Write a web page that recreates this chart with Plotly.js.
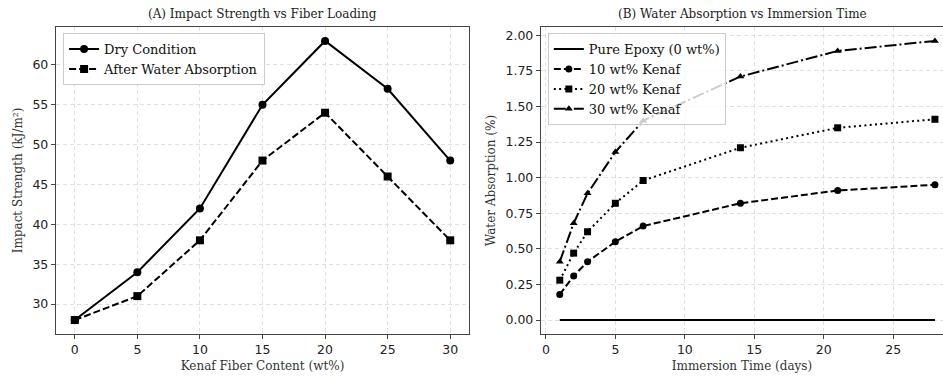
<!DOCTYPE html>
<html>
<head>
<meta charset="utf-8">
<script src="https://cdn.plot.ly/plotly-3.0.1.min.js"></script>
<style>html,body{margin:0;padding:0;background:#fff;}#chart{width:943px;height:377px;}</style>
</head>
<body>
<div id="chart"></div>
<script>
// Panel A data
const fiberContent = [0, 5, 10, 15, 20, 25, 30];
const dryImpact = [28, 34, 42, 55, 63, 57, 48];
const wetImpact = [28, 31, 38, 48, 54, 46, 38];
// Panel B data
const immersionDays = [1, 2, 3, 5, 7, 14, 21, 28];
const pureEpoxy = [0, 0, 0, 0, 0, 0, 0, 0];
const kenaf10 = [0.18, 0.31, 0.41, 0.55, 0.66, 0.82, 0.91, 0.95];
const kenaf20 = [0.28, 0.47, 0.62, 0.82, 0.98, 1.21, 1.35, 1.41];
const kenaf30 = [0.41, 0.68, 0.89, 1.18, 1.40, 1.71, 1.89, 1.96];
const xTicksA = [0, 5, 10, 15, 20, 25, 30];
const yTicksA = [30, 35, 40, 45, 50, 55, 60];
const xTicksB = [0, 5, 10, 15, 20, 25];
const yTicksB = [0, 0.25, 0.5, 0.75, 1.0, 1.25, 1.5, 1.75, 2.0];

const serif = '"DejaVu Serif", serif';
const sans = '"DejaVu Sans", sans-serif';
const lw = 2;
const dashed = '7px,3px';
const dotted = '2px,3.3px';
const dashdot = '12px,3px,2px,3px';

const traces = [
  {x: fiberContent, y: dryImpact, name: 'Dry Condition', mode: 'lines+markers',
   line: {color: '#000', width: lw}, marker: {symbol: 'circle', size: 8, color: '#000'},
   xaxis: 'x', yaxis: 'y', legend: 'legend'},
  {x: fiberContent, y: wetImpact, name: 'After Water Absorption', mode: 'lines+markers',
   line: {color: '#000', width: lw, dash: dashed}, marker: {symbol: 'square', size: 8, color: '#000'},
   xaxis: 'x', yaxis: 'y', legend: 'legend'},
  {x: immersionDays, y: pureEpoxy, name: 'Pure Epoxy (0 wt%)', mode: 'lines',
   line: {color: '#000', width: lw}, xaxis: 'x2', yaxis: 'y2', legend: 'legend2'},
  {x: immersionDays, y: kenaf10, name: '10 wt% Kenaf', mode: 'lines+markers',
   line: {color: '#000', width: lw, dash: dashed}, marker: {symbol: 'circle', size: 7, color: '#000'},
   xaxis: 'x2', yaxis: 'y2', legend: 'legend2'},
  {x: immersionDays, y: kenaf20, name: '20 wt% Kenaf', mode: 'lines+markers',
   line: {color: '#000', width: lw, dash: dotted}, marker: {symbol: 'square', size: 7, color: '#000'},
   xaxis: 'x2', yaxis: 'y2', legend: 'legend2'},
  {x: immersionDays, y: kenaf30, name: '30 wt% Kenaf', mode: 'lines+markers',
   line: {color: '#000', width: lw, dash: dashdot}, marker: {symbol: 'triangle-up', size: 7, color: '#000'},
   xaxis: 'x2', yaxis: 'y2', legend: 'legend2'}
];

const axisCommon = {
  showline: true, mirror: true, linecolor: '#444', linewidth: 1.2,
  ticks: 'outside', ticklen: 4, tickcolor: '#444',
  showgrid: true, gridcolor: '#e0e0e0', griddash: '4px,3px', gridwidth: 1,
  zeroline: false, tickfont: {family: sans, size: 12.5, color: '#222'}
};

const titleFont = {family: serif, size: 12, color: '#333'};

const legendCommon = {
  bgcolor: 'rgba(255,255,255,0.8)', bordercolor: '#cccccc', borderwidth: 1,
  font: {family: serif, size: 13, color: '#111'}, xanchor: 'left', yanchor: 'top',
  tracegroupgap: 0, itemwidth: 30
};

const layout = {
  width: 943, height: 377,
  margin: {l: 56, r: 0, t: 27, b: 43},
  paper_bgcolor: '#fff', plot_bgcolor: '#fff',
  showlegend: true,
  xaxis: Object.assign({}, axisCommon, {domain: [0, 0.4656], range: [-1.5, 31.5],
    tickvals: xTicksA, anchor: 'y',
    title: {text: 'Kenaf Fiber Content (wt%)', font: titleFont, standoff: 5}}),
  yaxis: Object.assign({}, axisCommon, {range: [26.25, 64.75], tickvals: yTicksA, anchor: 'x',
    title: {text: 'Impact Strength (kJ/m²)', font: titleFont, standoff: 7}}),
  xaxis2: Object.assign({}, axisCommon, {domain: [0.5468, 1], range: [-0.35, 28.58],
    tickvals: xTicksB, anchor: 'y2',
    title: {text: 'Immersion Time (days)', font: titleFont, standoff: 5}}),
  yaxis2: Object.assign({}, axisCommon, {range: [-0.098, 2.058], tickvals: yTicksB, anchor: 'x2',
    tickformat: '.2f',
    title: {text: 'Water Absorption (%)', font: titleFont, standoff: 7}}),
  legend: Object.assign({}, legendCommon, {x: 0.008, y: 0.98, xref: 'paper', yref: 'paper'}),
  legend2: Object.assign({}, legendCommon, {x: 0.5545, y: 0.98, xref: 'paper', yref: 'paper'}),
  annotations: [
    {text: '(A) Impact Strength vs Fiber Loading', x: 0.2328, y: 1, xref: 'paper', yref: 'paper',
     xanchor: 'center', yanchor: 'bottom', yshift: 4, showarrow: false,
     font: {family: serif, size: 12, color: '#222'}},
    {text: '(B) Water Absorption vs Immersion Time', x: 0.7734, y: 1, xref: 'paper', yref: 'paper',
     xanchor: 'center', yanchor: 'bottom', yshift: 4, showarrow: false,
     font: {family: serif, size: 12, color: '#222'}}
  ]
};

Plotly.newPlot('chart', traces, layout, {displayModeBar: false, staticPlot: true});
</script>
</body>
</html>
